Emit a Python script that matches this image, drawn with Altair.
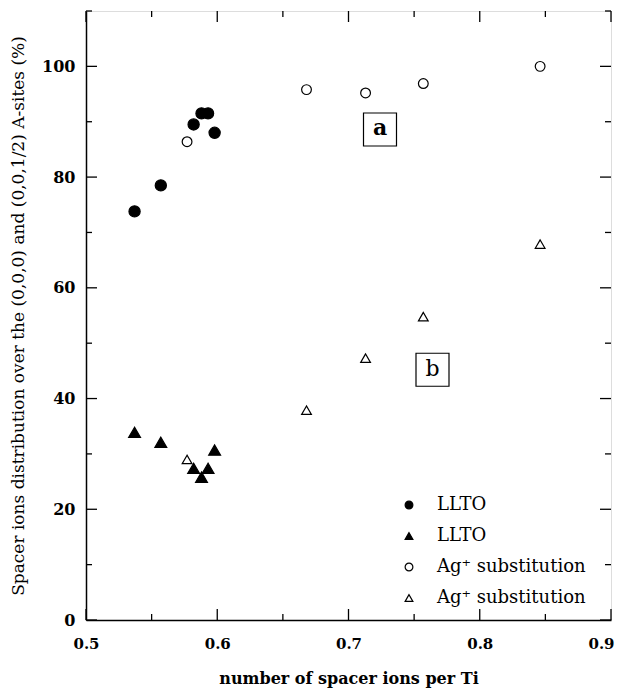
import altair as alt
import pandas as pd

# ---- data ----
llto_x = [0.537, 0.557, 0.582, 0.588, 0.593, 0.598]
llto_a = [73.8, 78.5, 89.5, 91.5, 91.5, 88.0]      # filled circles
llto_b = [33.9, 32.1, 27.4, 25.8, 27.4, 30.7]      # filled triangles
ag_x = [0.577, 0.668, 0.713, 0.757, 0.846]
ag_a = [86.4, 95.8, 95.2, 96.9, 100.0]             # open circles
ag_b = [29.0, 37.9, 47.3, 54.8, 67.9]              # open triangles

series_keys = ["1 LLTO a", "2 LLTO b", "3 Ag a", "4 Ag b"]
series_shapes = ["circle", "triangle-up", "circle", "triangle-up"]
series_fills = ["black", "black", "white", "white"]
series_strokes = ["black", "black", "black", "black"]
series_sizes = [125, 140, 95, 95]

box_labels = ["a", "b"]
box_x = [0.724, 0.764]
box_y = [88.6, 45.2]

x_major = [0.5, 0.6, 0.7, 0.8, 0.9]
x_minor = [0.55, 0.65, 0.75, 0.85]
y_major = [0, 20, 40, 60, 80, 100]
y_minor = [10, 30, 50, 70, 90, 110]

W, H = 525, 609
FONT = "DejaVu Serif"

series_data = [
    (llto_x, llto_a),
    (llto_x, llto_b),
    (ag_x, ag_a),
    (ag_x, ag_b),
]

xscale = alt.Scale(domain=[0.5, 0.9], nice=False, zero=False)
yscale = alt.Scale(domain=[0, 110], nice=False, zero=False)

XT = "number of spacer ions per Ti"
YT = "Spacer ions distribution over the (0,0,0) and (0,0,1/2) A-sites (%)"

xax = alt.Axis(values=x_major, format=".1f", ticks=False, tickSize=0, grid=False,
               labelFont=FONT, labelFontWeight="bold", labelFontSize=15, labelColor="black",
               labelPadding=16, labelFlush=False,
               labelOffset={"condition": {"test": "datum.value >= 0.89", "value": -10}, "value": 0},
               domainColor="black", domainWidth=1.5,
               titleFont=FONT, titleFontWeight="bold",
               titleFontSize=16, titleColor="black", titlePadding=19)
yax = alt.Axis(values=y_major, ticks=False, tickSize=0, grid=False,
               labelFont=FONT, labelFontWeight="bold", labelFontSize=16, labelColor="black",
               labelPadding=11, labelFlush=False, domainColor="black", domainWidth=1.5,
               titleFont=FONT, titleFontWeight="normal", titleFontSize=17, titleColor="black",
               titlePadding=14)

def X(field):
    return alt.X(field, scale=xscale, axis=xax, title=XT)

def Y(field):
    return alt.Y(field, scale=yscale, axis=yax, title=YT)

legend = alt.Legend(
    title=None, orient="none", legendX=314, legendY=485,
    labelExpr="indexof(datum.value, 'LLTO') >= 0 ? 'LLTO' : 'Ag⁺ substitution'",
    labelFont=FONT, labelFontSize=18, labelColor="black", labelOffset=19,
    symbolSize=60, symbolStrokeWidth=1.2,
    rowPadding=13, padding=0,
)

point_layers = []
for key, (xs, ys), sz in zip(series_keys, series_data, series_sizes):
    d = pd.DataFrame({"x": xs, "y": ys, "s": key})
    point_layers.append(
        alt.Chart(d).mark_point(filled=True, size=sz, strokeWidth=1.2, opacity=1).encode(
            x=X("x:Q"),
            y=Y("y:Q"),
            shape=alt.Shape("s:N", scale=alt.Scale(domain=series_keys, range=series_shapes), legend=legend),
            fill=alt.Fill("s:N", scale=alt.Scale(domain=series_keys, range=series_fills), legend=legend),
            stroke=alt.Stroke("s:N", scale=alt.Scale(domain=series_keys, range=series_strokes), legend=legend),
        )
    )

# inside tick marks on all four sides
def yticks(vals, length):
    d = pd.DataFrame({"v": vals})
    left = alt.Chart(d).mark_rule(color="black", strokeWidth=1.3).encode(
        y=Y("v:Q"), x=alt.value(0), x2=alt.value(length))
    right = alt.Chart(d).mark_rule(color="black", strokeWidth=1.3).encode(
        y=Y("v:Q"), x=alt.value(W - length), x2=alt.value(W))
    return [left, right]

def xticks(vals, length):
    d = pd.DataFrame({"v": vals})
    bottom = alt.Chart(d).mark_rule(color="black", strokeWidth=1.3).encode(
        x=X("v:Q"), y=alt.value(H), y2=alt.value(H - length))
    top = alt.Chart(d).mark_rule(color="black", strokeWidth=1.3).encode(
        x=X("v:Q"), y=alt.value(0), y2=alt.value(length))
    return [bottom, top]

tick_layers = yticks(y_major, 11) + yticks(y_minor, 6) + xticks(x_major, 11) + xticks(x_minor, 6)

bdf = pd.DataFrame({"x": box_x, "y": box_y, "t": box_labels})
boxes = alt.Chart(bdf).mark_point(shape="square", size=33 * 33, filled=True, fill="white",
                                  stroke="black", strokeWidth=1.2, opacity=1).encode(
    x=X("x:Q"), y=Y("y:Q"))
box_a = alt.Chart(bdf[bdf.t == "a"]).mark_text(font=FONT, fontSize=22, fontWeight="bold",
                                               color="black", baseline="middle", dy=-1).encode(
    x=X("x:Q"), y=Y("y:Q"), text="t:N")
box_b = alt.Chart(bdf[bdf.t == "b"]).mark_text(font=FONT, fontSize=22, fontWeight="normal",
                                               color="black", baseline="middle", dy=-1).encode(
    x=X("x:Q"), y=Y("y:Q"), text="t:N")

chart = alt.layer(*point_layers, *tick_layers, boxes, box_a, box_b).properties(
    width=W, height=H,
    autosize=alt.AutoSizeParams(type="none"),
    padding={"left": 78, "top": 3, "right": 5, "bottom": 70},
).configure_view(stroke="black", strokeWidth=1.5).configure(background="white")

chart.save("out.html", embed_options={"renderer": "svg", "actions": False})
